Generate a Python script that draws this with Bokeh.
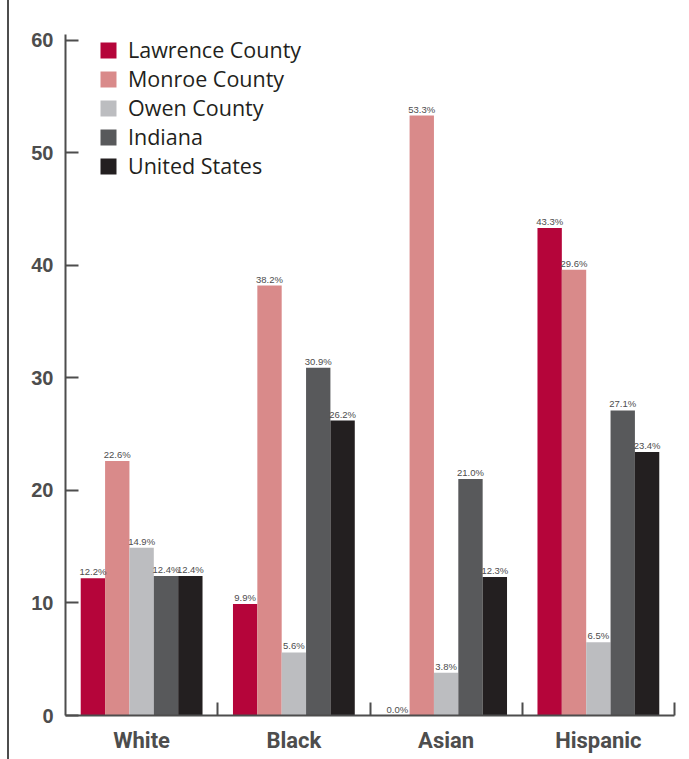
from bokeh.plotting import figure
from bokeh.models import (ColumnDataSource, Range1d, FixedTicker, Legend, LegendItem, LabelSet)
from bokeh.core.properties import value
from bokeh.embed import file_html
from bokeh.resources import INLINE

categories = ["White", "Black", "Asian", "Hispanic"]
series = ["Lawrence County", "Monroe County", "Owen County", "Indiana", "United States"]
colors = ["#b5053a", "#d98a8a", "#bcbdc0", "#58595b", "#231f20"]

lawrence = [12.2, 9.9, 0.0, 43.3]
monroe = [22.6, 38.2, 53.3, 39.6]
owen = [14.9, 5.6, 3.8, 6.5]
indiana = [12.4, 30.9, 21.0, 27.1]
united_states = [12.4, 26.2, 12.3, 23.4]

lawrence_labels = ["12.2%", "9.9%", "0.0%", "43.3%"]
monroe_labels = ["22.6%", "38.2%", "53.3%", "29.6%"]
owen_labels = ["14.9%", "5.6%", "3.8%", "6.5%"]
indiana_labels = ["12.4%", "30.9%", "21.0%", "27.1%"]
united_states_labels = ["12.4%", "26.2%", "12.3%", "23.4%"]

y_ticks = [0, 10, 20, 30, 40, 50, 60]

values = [lawrence, monroe, owen, indiana, united_states]
labels = [lawrence_labels, monroe_labels, owen_labels, indiana_labels, united_states_labels]

p = figure(width=680, height=759, output_backend="svg", toolbar_location=None,
           x_range=Range1d(0, 4), y_range=Range1d(0, 60.5),
           min_border_left=56, min_border_right=15, min_border_top=34, min_border_bottom=44,
           styles={"margin-left": "7px", "border-left": "2px solid #4d4d4d"})
p.outline_line_color = None
p.xgrid.visible = False
p.ygrid.visible = False
p.background_fill_color = "white"
p.border_fill_color = "white"

bar_w = 0.16
offsets = [-0.32, -0.16, 0.0, 0.16, 0.32]
items = []
for k in range(5):
    xs = [i + 0.5 + offsets[k] for i in range(len(categories))]
    src = ColumnDataSource(dict(x=xs, top=values[k], lab=labels[k]))
    r = p.vbar(x="x", top="top", width=bar_w, bottom=0, source=src,
               fill_color=colors[k], line_color=None)
    items.append(LegendItem(label=series[k], renderers=[r]))
    ls = LabelSet(x="x", y="top", text="lab", source=src, text_align="center",
                  text_baseline="bottom", y_offset=1, text_font_size="9.5px",
                  text_color="#4d4d4d", text_font=value("Liberation Sans"))
    p.add_layout(ls)

legend = Legend(items=items, location=(33, 535), orientation="vertical",
                label_text_font="Open Sans", label_text_font_size="21.5px",
                label_text_color="#231f20", glyph_width=20, glyph_height=20,
                label_standoff=10, spacing=0, padding=0, margin=0,
                border_line_color=None, background_fill_alpha=0)
p.add_layout(legend, "center")

# y axis
ya = p.yaxis[0]
ya.ticker = FixedTicker(ticks=y_ticks)
ya.axis_line_color = "#4d4d4d"
ya.axis_line_width = 2
ya.major_tick_in = 13
ya.major_tick_out = 0
ya.major_tick_line_color = "#4d4d4d"
ya.major_tick_line_width = 2
ya.minor_tick_line_color = None
ya.major_label_text_font = "Liberation Sans"
ya.major_label_text_font_style = "bold"
ya.major_label_text_font_size = "20px"
ya.major_label_text_color = "#4d4d4d"
ya.major_label_standoff = 12

# x axis
xa = p.xaxis[0]
xa.ticker = FixedTicker(ticks=[i + 0.5 for i in range(len(categories))],
                        minor_ticks=[1, 2, 3, 4])
xa.major_label_overrides = {i + 0.5: c for i, c in enumerate(categories)}
xa.axis_line_color = "#4d4d4d"
xa.axis_line_width = 2
xa.major_tick_line_color = None
xa.minor_tick_in = 13
xa.minor_tick_out = 0
xa.minor_tick_line_color = "#4d4d4d"
xa.minor_tick_line_width = 2
xa.major_label_text_font = "Roboto"
xa.major_label_text_font_style = "bold"
xa.major_label_text_font_size = "22px"
xa.major_label_text_color = "#4d4d4d"
xa.major_label_standoff = 6

open("out.html", "w").write(file_html(p, INLINE))
